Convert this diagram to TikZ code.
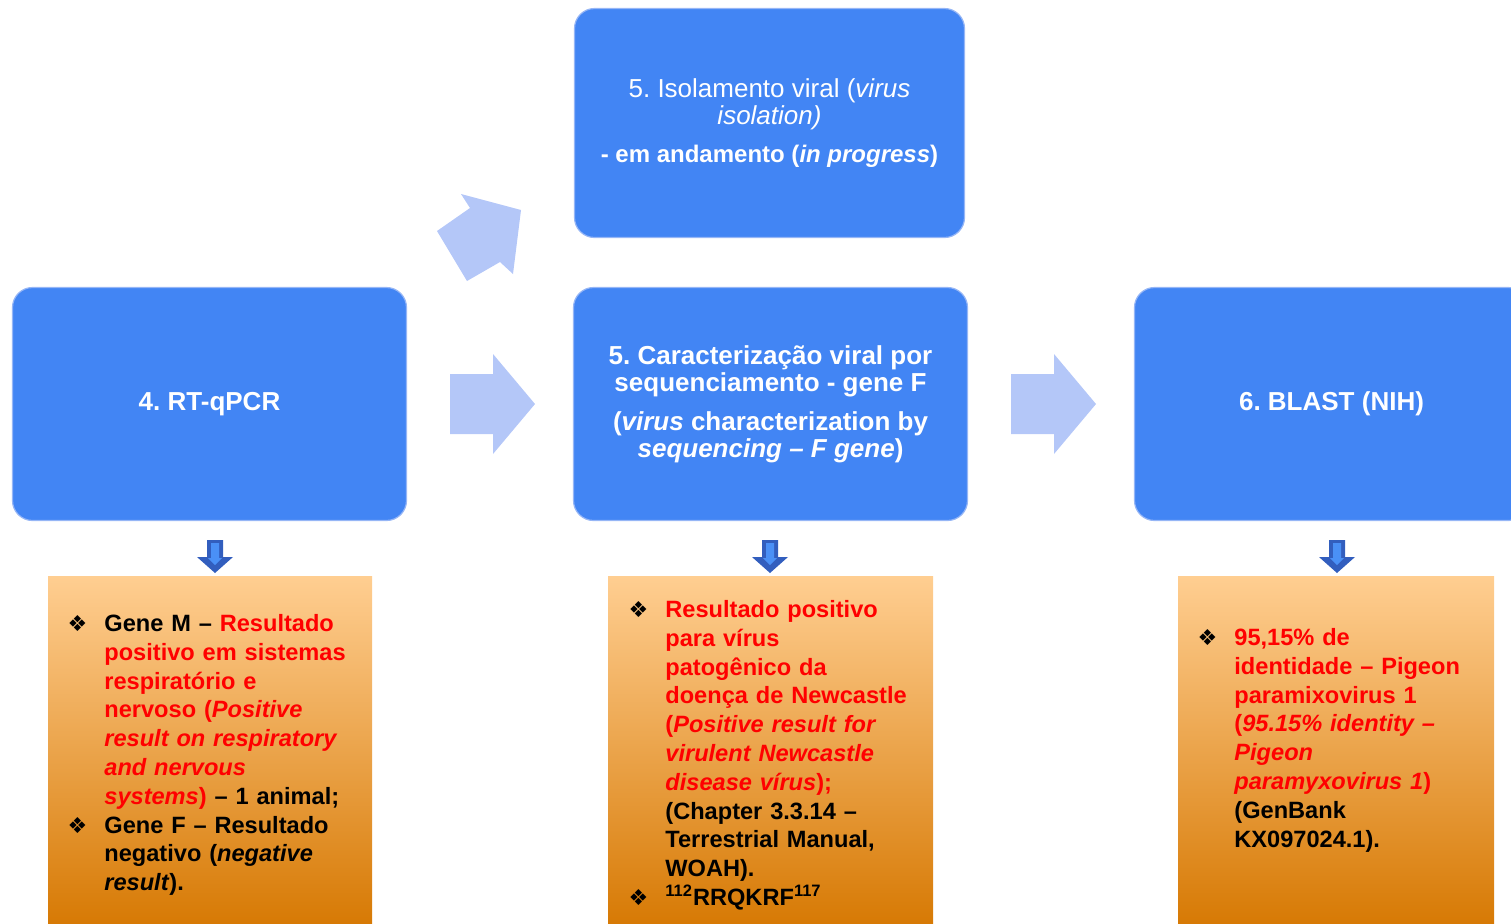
\documentclass[tikz,border=0pt]{standalone}
\usepackage{fontspec}
\setmainfont{Liberation Sans}
\newfontfamily\bullfont{DejaVu Sans}

\definecolor{stageblue}{RGB}{66,133,244}
\definecolor{stageedge}{RGB}{150,182,246}
\definecolor{flowblue}{RGB}{180,199,248}
\definecolor{dropblue}{RGB}{50,94,190}
\definecolor{dropinner}{RGB}{74,144,246}
\definecolor{peachtop}{RGB}{255,206,145}
\definecolor{peachbottom}{RGB}{215,122,5}
\definecolor{hitred}{RGB}{255,0,0}

\newcommand{\bull}{\leavevmode\llap{{\bullfont\fontsize{11pt}{11pt}\selectfont ❖}\hspace{8.5pt}}}
\newcommand{\hit}[1]{\textcolor{hitred}{#1}}

\tikzset{
  stagebox/.style={rectangle, rounded corners=10pt, fill=stageblue, draw=stageedge, line width=0.6pt,
    text=white, align=center, minimum width=197pt, minimum height=116.5pt,
    font=\frenchspacing\bfseries\fontsize{13pt}{13.5pt}\selectfont},
  resultbox/.style={rectangle, top color=peachtop, bottom color=peachbottom, inner sep=0pt,
    minimum width=#1, minimum height=173.5pt},
  resulttext/.style={anchor=north west, text width=135pt, align=left, inner sep=0pt,
    font=\bfseries\fontsize{11.8pt}{14.4pt}\selectfont},
  flowarrow/.style={fill=flowblue},
  droparrow/.style={fill=dropblue},
  dropcore/.style={fill=dropinner}
}

\begin{document}
\begin{tikzpicture}[x=0.5pt,y=-0.5pt]
\useasboundingbox (0,0) rectangle (1511,923);

% stages
\node[stagebox, minimum width=195pt, minimum height=114.5pt] (isol) at (769.5,123) {\mdseries 5. Isolamento viral (\textit{virus}\\
  \mdseries\textit{isolation)}\\[5.5pt]
  \fontsize{12pt}{13.5pt}\selectfont - em andamento (\textit{in progress})};
\node[stagebox] (pcr) at (209.5,404) {4. RT-qPCR};
\node[stagebox] (seq) at (770.5,404) {5. Caracterização viral por\\
  sequenciamento - gene F\\[6pt]
  (\textit{virus} characterization by\\
  \textit{sequencing – F gene})};
\node[stagebox] (blast) at (1331.5,404) {6. BLAST (NIH)};

% flow arrows
\fill[flowarrow] (450,374) -- (493,374) -- (493,354) -- (535,404) -- (493,454) -- (493,434) -- (450,434) -- cycle;
\fill[flowarrow] (1011,374) -- (1054,374) -- (1054,354) -- (1096,404) -- (1054,454) -- (1054,434) -- (1011,434) -- cycle;
\fill[flowarrow] (437,231) -- (470,208) -- (461,194) -- (521,210) -- (513,274) -- (500,262) -- (467,281) -- cycle;

% arrows down to results
\fill[droparrow] (207,540) -- (223,540) -- (223,557) -- (233,557) -- (215,573) -- (197,557) -- (207,557) -- cycle;
\fill[dropcore] (211,543) -- (219,543) -- (219,558) -- (222,558) -- (215,565) -- (208,558) -- (211,558) -- cycle;
\fill[droparrow] (762,540) -- (778,540) -- (778,557) -- (788,557) -- (770,573) -- (752,557) -- (762,557) -- cycle;
\fill[dropcore] (766,543) -- (774,543) -- (774,558) -- (777,558) -- (770,565) -- (763,558) -- (766,558) -- cycle;
\fill[droparrow] (1329,540) -- (1345,540) -- (1345,557) -- (1355,557) -- (1337,573) -- (1319,557) -- (1329,557) -- cycle;
\fill[dropcore] (1333,543) -- (1341,543) -- (1341,558) -- (1344,558) -- (1337,565) -- (1330,558) -- (1333,558) -- cycle;

% results
\node[resultbox=162pt] (pcrres) at (210,749.5) {};
\node[resultbox=162.5pt] (seqres) at (770.5,749.5) {};
\node[resultbox=158pt] (blastres) at (1336,749.5) {};

\node[resulttext] (pcrtxt) at (104,614) {\bull Gene M – \hit{Resultado}\\
  \hit{positivo em sistemas}\\
  \hit{respiratório e}\\
  \hit{nervoso (\textit{Positive}}\\
  \hit{\textit{result on respiratory}}\\
  \hit{\textit{and nervous}}\\
  \hit{\textit{systems})} – 1 animal;\\
  \bull Gene F – Resultado\\
  negativo (\textit{negative}\\
  \textit{result}).};
\node[resulttext] (seqtxt) at (665,600) {\bull\hit{Resultado positivo}\\
  \hit{para vírus}\\
  \hit{patogênico da}\\
  \hit{doença de Newcastle}\\
  \hit{(\textit{Positive result for}}\\
  \hit{\textit{virulent Newcastle}}\\
  \hit{\textit{disease vírus});}\\
  (Chapter 3.3.14 –\\
  Terrestrial Manual,\\
  WOAH).\\
  \bull\textsuperscript{112}RRQKRF\textsuperscript{117}};
\node[resulttext] (blasttxt) at (1234,628) {\bull\hit{95,15\% de}\\
  \hit{identidade – Pigeon}\\
  \hit{paramixovirus 1}\\
  \hit{(\textit{95.15\% identity –}}\\
  \hit{\textit{Pigeon}}\\
  \hit{\textit{paramyxovirus 1})}\\
  (GenBank\\
  KX097024.1).};

\end{tikzpicture}
\end{document}
